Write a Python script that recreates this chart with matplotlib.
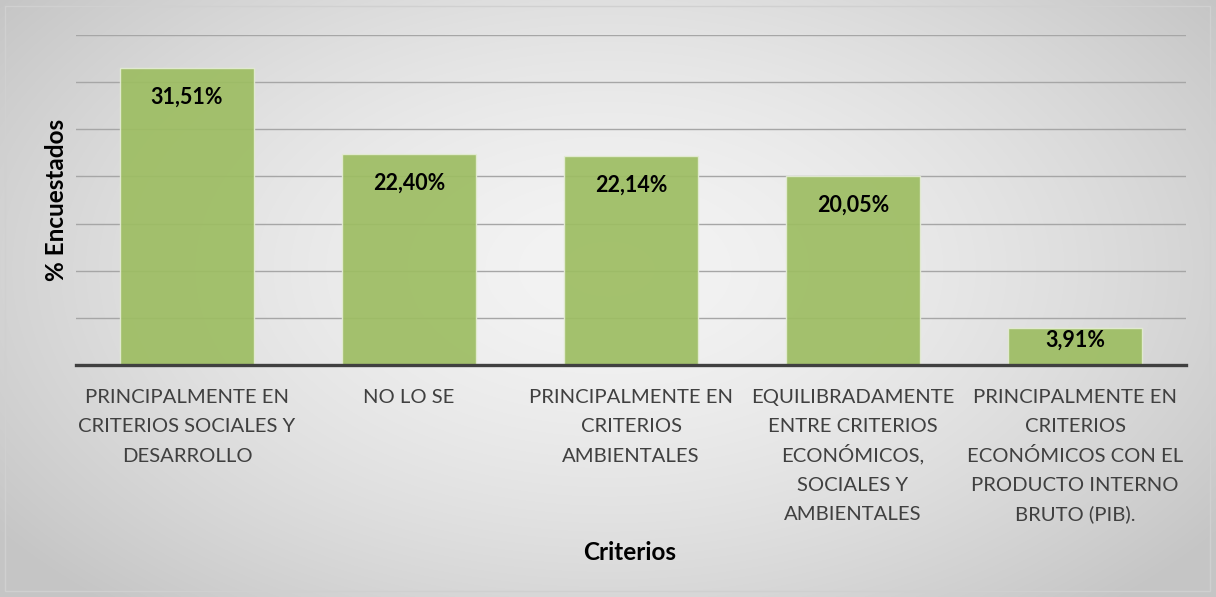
import numpy as np
import matplotlib
matplotlib.use("Agg")
import matplotlib.pyplot as plt
from matplotlib.patches import Rectangle
from matplotlib import transforms

categories = [
    "PRINCIPALMENTE EN\nCRITERIOS SOCIALES Y\nDESARROLLO",
    "NO LO SE",
    "PRINCIPALMENTE EN\nCRITERIOS\nAMBIENTALES",
    "EQUILIBRADAMENTE\nENTRE CRITERIOS\nECONÓMICOS,\nSOCIALES Y\nAMBIENTALES",
    "PRINCIPALMENTE EN\nCRITERIOS\nECONÓMICOS CON EL\nPRODUCTO INTERNO\nBRUTO (PIB).",
]
values = [31.51, 22.40, 22.14, 20.05, 3.91]
value_labels = ["31,51%", "22,40%", "22,14%", "20,05%", "3,91%"]

plt.rcParams['font.family'] = ['Lato', 'DejaVu Sans']

W, H = 1216, 597
fig = plt.figure(figsize=(W / 100, H / 100), dpi=100)

# radial gradient background
bg = fig.add_axes([0, 0, 1, 1], zorder=-10)
yy, xx = np.mgrid[0:H, 0:W]
r = np.sqrt(((xx - W * 0.5) / (W * 0.62)) ** 2 + ((yy - H * 0.45) / (H * 0.75)) ** 2)
r = np.clip(r, 0, 1)
val = 0.955 - 0.18 * r ** 1.6
img = np.dstack([val, val, val])
bg.imshow(img, aspect='auto', extent=[0, 1, 0, 1], interpolation='bilinear')
bg.set_xlim(0, 1)
bg.set_ylim(0, 1)
bg.axis('off')
bg.add_patch(Rectangle((5 / W, 6 / H), (W - 11) / W, (H - 12) / H,
                       fill=False, edgecolor='#d0d0d0', linewidth=1.0,
                       transform=bg.transAxes))

ax_h_px = 365 - 35
ax = fig.add_axes([76 / W, 1 - 365 / H, (1186 - 76) / W, ax_h_px / H])
ax.patch.set_alpha(0)
x = np.arange(len(categories))
ymax = 35
ax.bar(x, values, width=0.6, color='#9DBD62', alpha=0.92,
       edgecolor='#e4ecd4', linewidth=1.0, zorder=2)
ax.set_xlim(-0.5, len(categories) - 0.5)
ax.set_ylim(0, ymax)
ax.set_yticks(np.arange(5, 36, 5))
ax.yaxis.grid(True, color='#a6a6a6', linewidth=1.0, zorder=0)
ax.set_axisbelow(True)
ax.tick_params(axis='y', left=False, labelleft=False)
for s in ['top', 'right', 'left']:
    ax.spines[s].set_visible(False)
ax.spines['bottom'].set_color('#404040')
ax.spines['bottom'].set_linewidth(2.4)
ax.spines['bottom'].set_zorder(3)

ax.set_xticks(x)
ax.set_xticklabels([])
ax.tick_params(axis='x', length=0)

# category labels, one line at a time for even spacing
trans = transforms.blended_transform_factory(ax.transData, fig.transFigure)
first_baseline = 403.0
line_step = 29.3
for xi, cat in zip(x, categories):
    for k, line in enumerate(cat.split("\n")):
        ypx = first_baseline + k * line_step
        ax.text(xi, 1 - ypx / H, line, transform=trans, ha='center',
                va='baseline', fontsize=14.6, color='#404040', clip_on=False)

# value labels at the inside end of each bar
for xi, v, lab in zip(x, values, value_labels):
    bar_px = v / ymax * ax_h_px
    off_px = min(29.0, 0.33 * bar_px)
    ax.annotate(lab, (xi, v), xytext=(0, -off_px * 72 / 100), textcoords='offset points',
                ha='center', va='center', fontsize=15.5, fontweight='bold',
                color='black', zorder=4)

fig.text(57 / W, 1 - 200 / H, '% Encuestados', rotation=90, ha='center',
         va='center', fontsize=17.5, fontweight='bold')
fig.text(630 / W, 1 - 552 / H, 'Criterios', ha='center', va='center',
         fontsize=17.5, fontweight='bold')

fig.savefig('out.png', dpi=100)
